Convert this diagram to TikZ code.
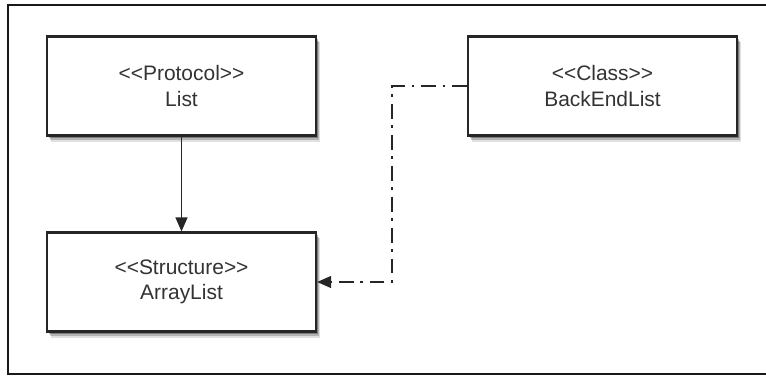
\documentclass[tikz,border=0pt]{standalone}
\usepackage{fontspec}
\setmainfont{Liberation Sans}[Ligatures=TeXOff]
\usetikzlibrary{arrows.meta}
\usetikzlibrary{shadows}

\begin{document}
\begin{tikzpicture}[x=0.025cm,y=-0.025cm,
  umlbox/.style={draw=black!85,line width=1.5pt,fill=white,minimum width=6.725cm,minimum height=2.475cm,
    align=center,text=black!80,font=\fontsize{14.9}{17.8}\selectfont,
    drop shadow={shadow xshift=0.1cm,shadow yshift=-0.15cm,fill=black,opacity=0.12},
    drop shadow={shadow xshift=0.07cm,shadow yshift=-0.11cm,fill=black,opacity=0.2},
    drop shadow={shadow xshift=0.04cm,shadow yshift=-0.07cm,fill=black,opacity=0.3}},
  assoc/.style={black!85,line width=1.1pt,-{Triangle[length=10pt,width=8.5pt]}},
  realize/.style={assoc,dash pattern=on 10.6pt off 4.7pt on 2pt off 4.7pt}]

\useasboundingbox (0,0) rectangle (766,376);

% frame
\draw[black!90,line width=2pt] (766,5) -- (8,5) -- (8,374) -- (766,374);

\node[umlbox] (list) at (181.5,86) {<<Protocol>>\\List};
\node[umlbox] (backend) at (602.5,86) {<<Class>>\\BackEndList};
\node[umlbox] (arraylist) at (181.5,282) {<<Structure>>\\ArrayList};

\coordinate (bend) at (392,86);

\draw[assoc] (list) -- (arraylist);
\draw[realize] (backend.west) -- (bend) |- (arraylist.east);

\end{tikzpicture}
\end{document}
